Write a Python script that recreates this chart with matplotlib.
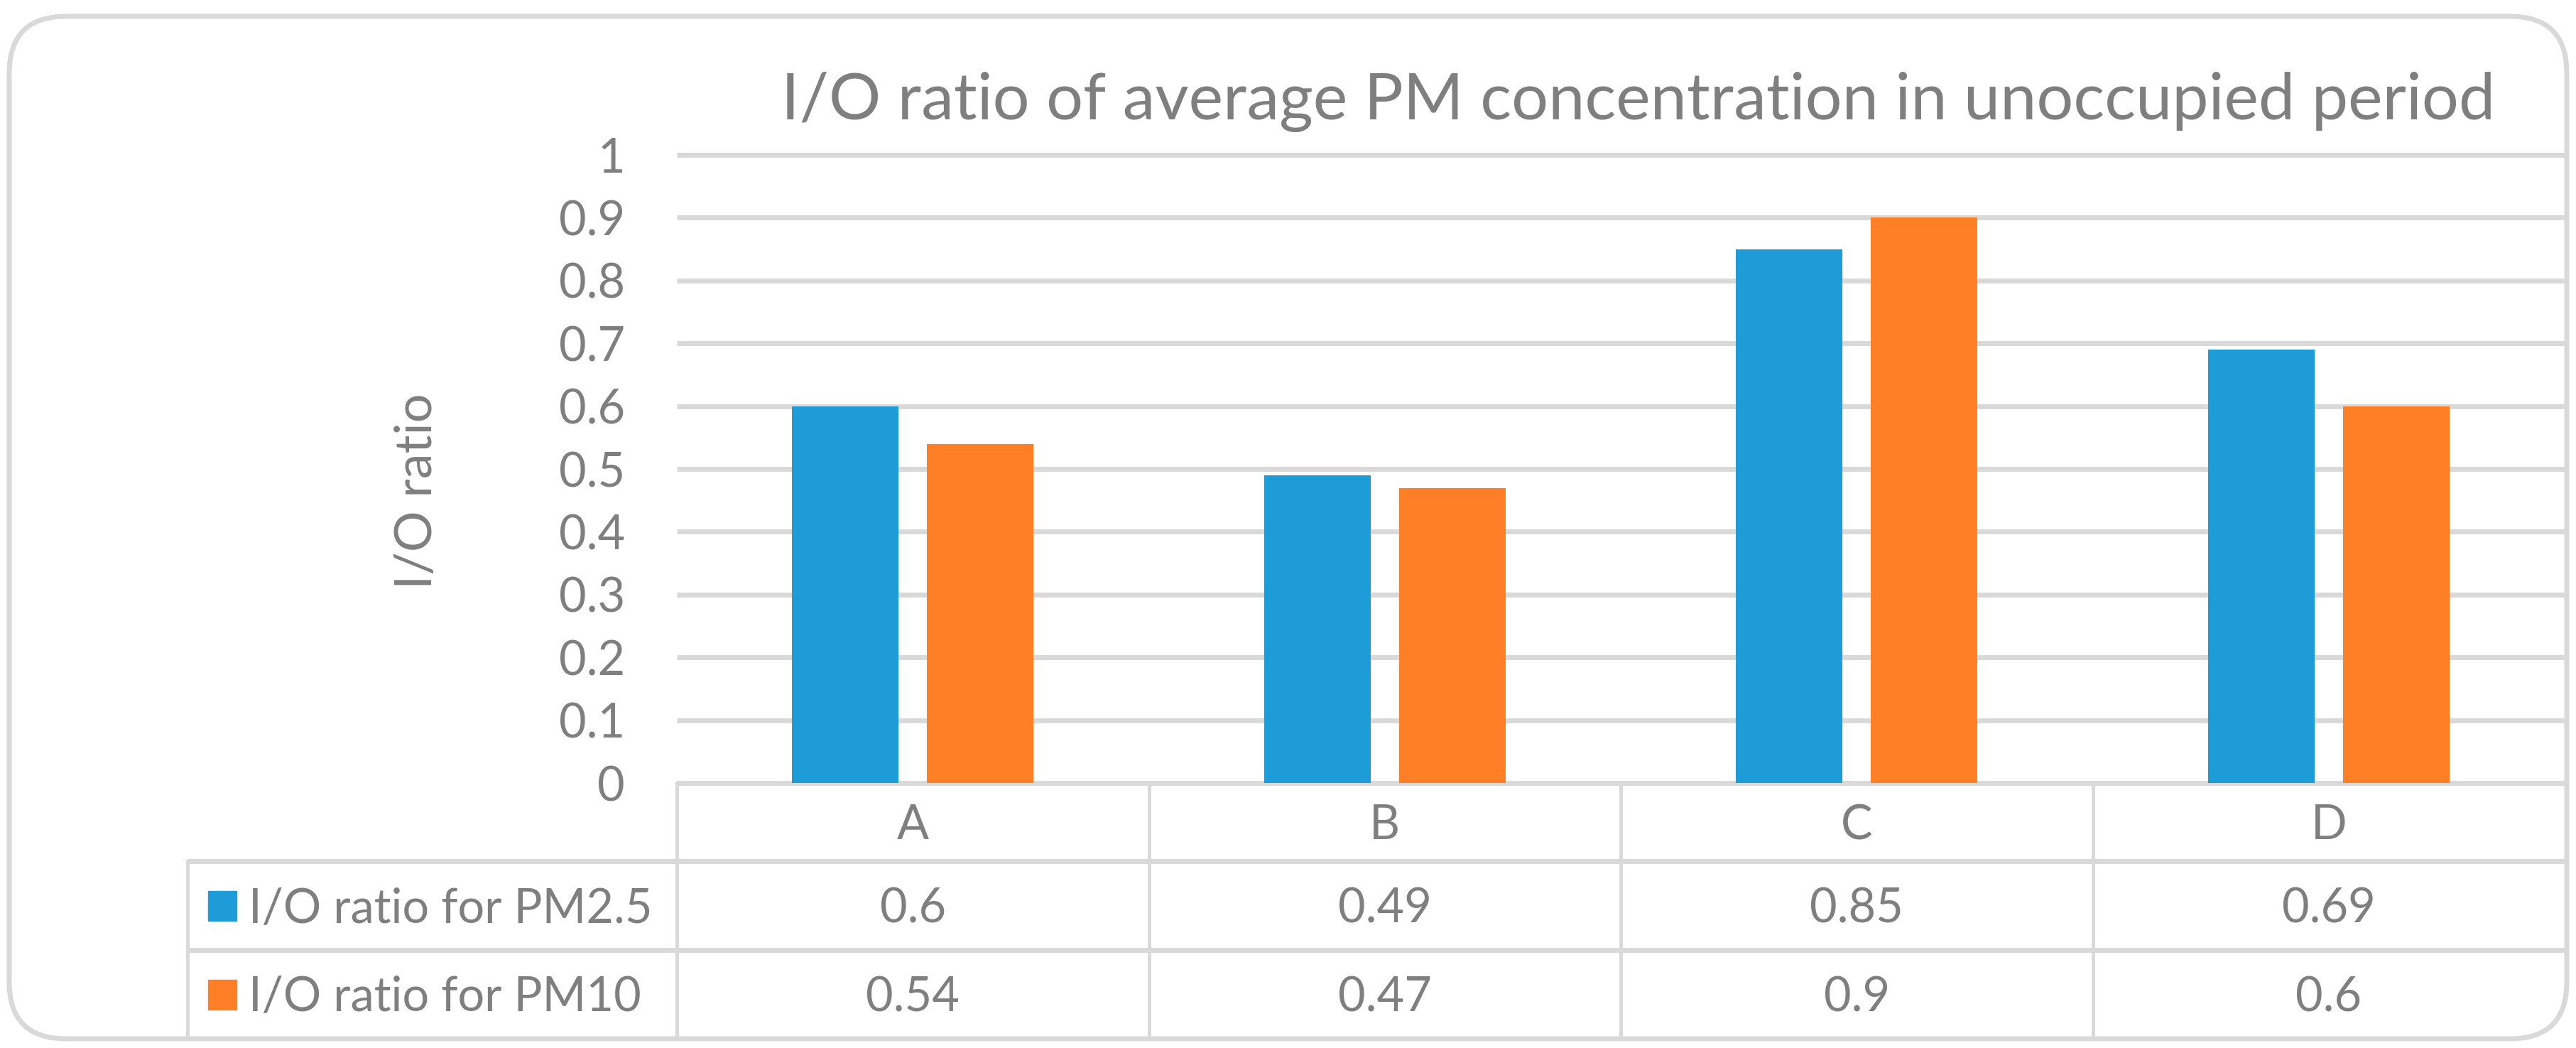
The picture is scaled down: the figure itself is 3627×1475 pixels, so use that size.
import matplotlib
matplotlib.use('Agg')
import matplotlib.pyplot as plt
import matplotlib.transforms as mtransforms
from matplotlib.patches import FancyBboxPatch, Rectangle
import numpy as np

CATEGORIES = ['A', 'B', 'C', 'D']
PM25 = [0.6, 0.49, 0.85, 0.69]
PM10 = [0.54, 0.47, 0.9, 0.6]
SERIES_NAMES = ['I/O ratio for PM2.5', 'I/O ratio for PM10']
Y_TICKS = [0, 0.1, 0.2, 0.3, 0.4, 0.5, 0.6, 0.7, 0.8, 0.9, 1.0]
TITLE = 'I/O ratio of average PM concentration in unoccupied period'
Y_LABEL = 'I/O ratio'

W, H, DPI = 3627, 1475, 100
PX = 72 / DPI
BLUE = '#1E9CD7'
ORANGE = '#FF7F27'
TXT = '#7F7F7F'
GRID = '#D9D9D9'

# layout in pixels
PLOT_L, PLOT_R, PLOT_T, PLOT_B = 953, 3611, 218, 1102
TABLE_ROWS = [1102, 1212, 1337, 1462]
LEGEND_L = 264
BAR_W = 0.226
BAR_OFF = 0.143

plt.rcParams['font.family'] = ['Lato', 'DejaVu Sans']

fig = plt.figure(figsize=(W / DPI, H / DPI), dpi=DPI)
bg = fig.add_axes([0, 0, 1, 1])
bg.set_xlim(0, W)
bg.set_ylim(H, 0)
bg.axis('off')

border = FancyBboxPatch((13, 23), PLOT_R + 3 - 13, 1462 - 23, boxstyle='round,pad=0,rounding_size=80',
                        ec=GRID, fc='white', lw=7 * PX, zorder=0)
bg.add_patch(border)

ax = fig.add_axes([PLOT_L / W, 1 - PLOT_B / H, (PLOT_R - PLOT_L) / W, (PLOT_B - PLOT_T) / H])
ax.set_facecolor('none')
ax.set_xlim(-0.5, len(CATEGORIES) - 0.5)
ax.set_ylim(0, 1)
x = np.arange(len(CATEGORIES))
ax.hlines(Y_TICKS, -0.5, len(CATEGORIES) - 0.5, color=GRID, lw=7 * PX, clip_on=False, zorder=1)
ax.bar(x - BAR_OFF, PM25, BAR_W, color=BLUE, zorder=3)
ax.bar(x + BAR_OFF, PM10, BAR_W, color=ORANGE, zorder=3)
for s in ax.spines.values():
    s.set_visible(False)
ax.set_xticks([])
ax.set_yticks(Y_TICKS)
ax.set_yticklabels([f'{v:g}' for v in Y_TICKS])
ax.tick_params(axis='y', length=0, pad=73 * PX, labelsize=48, labelcolor=TXT)

bg.text(2307, 168, TITLE, ha='center', va='baseline', fontsize=66, color=TXT)
bg.text(587, 691, Y_LABEL, rotation=90, ha='center', va='center', fontsize=52, color=TXT)

# data table under the plot
tx = mtransforms.blended_transform_factory(ax.transData, bg.transData)
for yy in TABLE_ROWS[1:-1]:
    bg.plot([LEGEND_L, PLOT_R], [yy, yy], color=GRID, lw=7 * PX, solid_capstyle='butt')
bg.plot([LEGEND_L, LEGEND_L], [TABLE_ROWS[1], TABLE_ROWS[-1]], color=GRID, lw=5 * PX)
for i in range(len(CATEGORIES)):
    bg.plot([i - 0.5, i - 0.5], [TABLE_ROWS[0], TABLE_ROWS[-1]], color=GRID, lw=5 * PX, transform=tx)

centers = [(TABLE_ROWS[k] + TABLE_ROWS[k + 1]) / 2 for k in range(3)]
for i, c in enumerate(CATEGORIES):
    bg.text(i, centers[0] + 24, c, ha='center', va='baseline', fontsize=48, color=TXT, transform=tx)
for k, (vals, name, col) in enumerate(zip([PM25, PM10], SERIES_NAMES, [BLUE, ORANGE])):
    yc = centers[k + 1]
    bg.add_patch(Rectangle((293, yc - 21), 40, 42, color=col))
    bg.text(350, yc + 24, name, ha='left', va='baseline', fontsize=48, color=TXT)
    for i, v in enumerate(vals):
        bg.text(i, yc + 24, f'{v:g}', ha='center', va='baseline', fontsize=48, color=TXT, transform=tx)

fig.savefig('out.png', dpi=DPI)
